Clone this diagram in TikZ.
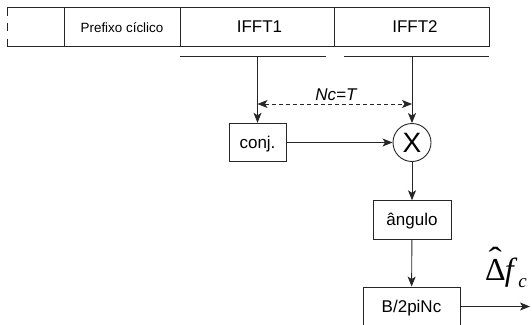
\documentclass[tikz,border=0pt]{standalone}
\usepackage[no-math]{fontspec}
\setmainfont{Liberation Sans}
\newfontfamily\labelserif{Liberation Serif}
\usetikzlibrary{arrows.meta}

\begin{document}
\begin{tikzpicture}[x=1pt,y=-1pt,
  line/.style={line width=0.9pt,draw=black!85},
  cell/.style={line,rectangle,inner sep=0pt,minimum height=39pt,
    text height=11.5pt,text depth=0pt},
  box/.style={line,rectangle,inner sep=0pt,minimum height=38.5pt,
    font=\fontsize{17}{20}\selectfont,text height=11.5pt,text depth=0pt},
  tip/.tip={Stealth[length=10pt,width=8pt,inset=2.5pt]},
  arr/.style={line,-tip},
]
\useasboundingbox (0,0) rectangle (532,324);
\clip (0,0) rectangle (532,324);

% symbol frame: cut-off previous symbol, cyclic prefix and two IFFT blocks
\draw[line] (7,7.5) -- (64,7.5);
\draw[line] (7,46.5) -- (64,46.5);
\draw[line,dash pattern=on 8pt off 7.5pt] (7,7.5) -- (7,46.5);
\node[cell,minimum width=116pt,font=\fontsize{13.4}{16}\selectfont] (cp) at (122,27) {Prefixo cíclico};
\node[cell,minimum width=154pt,font=\fontsize{17}{20}\selectfont] (f1) at (257,27) {\hspace{5pt}IFFT1};
\node[cell,minimum width=155pt,font=\fontsize{17}{20}\selectfont] (f2) at (411.5,27) {\hspace{7pt}IFFT2};

% sampling windows under each IFFT block
\draw[line] (180,56) -- (326,56);
\draw[line] (344,56) -- (489,56);
\coordinate (t1) at (257.5,56);
\coordinate (t2) at (412,56);

% processing chain
\node[box,minimum width=57pt] (conj) at (257.5,142.5) {conj.};
\node[line,circle,minimum size=38pt,inner sep=0pt,
  font=\fontsize{28}{30}\selectfont] (mul) at (412,142.5) {X};
\node[box,minimum width=78pt] (ang) at (412,220) {ângulo};
\node[box,minimum width=97pt,minimum height=39pt] (scale) at (411.5,306.5) {B/2piNc};
\coordinate (out) at (530,306.5);

\draw[arr] (t1) -- (conj);
\draw[arr] (t2) -- (mul);
\draw[arr] (conj) -- (mul);
\draw[arr] (mul) -- (ang);
\draw[arr] (ang) -- (scale);
\draw[arr] (scale) -- (out);

% spacing between the two blocks
\coordinate (d1) at (257.5,104);
\coordinate (d2) at (412,104);
\draw[line,dash pattern=on 4pt off 3pt,tip-tip] (d1) -- (d2);
\node[font=\fontsize{17}{20}\itshape\selectfont,text height=11.5pt,text depth=0pt,
  inner sep=0pt] (nc) at (336,95) {Nc=T};

% frequency offset estimate
\node[anchor=base west,inner sep=0pt,
  font=\labelserif\fontsize{32}{36}\selectfont] (df) at (485,280.5)
  {\makebox[0pt][l]{\hspace{3.5pt}\raisebox{11.5pt}{\scalebox{1.25}[1]{ˆ}}}Δ\kern-1pt\textit{f}\kern1pt\raisebox{-6.5pt}{\fontsize{19}{20}\selectfont\itshape c}};
\end{tikzpicture}
\end{document}
